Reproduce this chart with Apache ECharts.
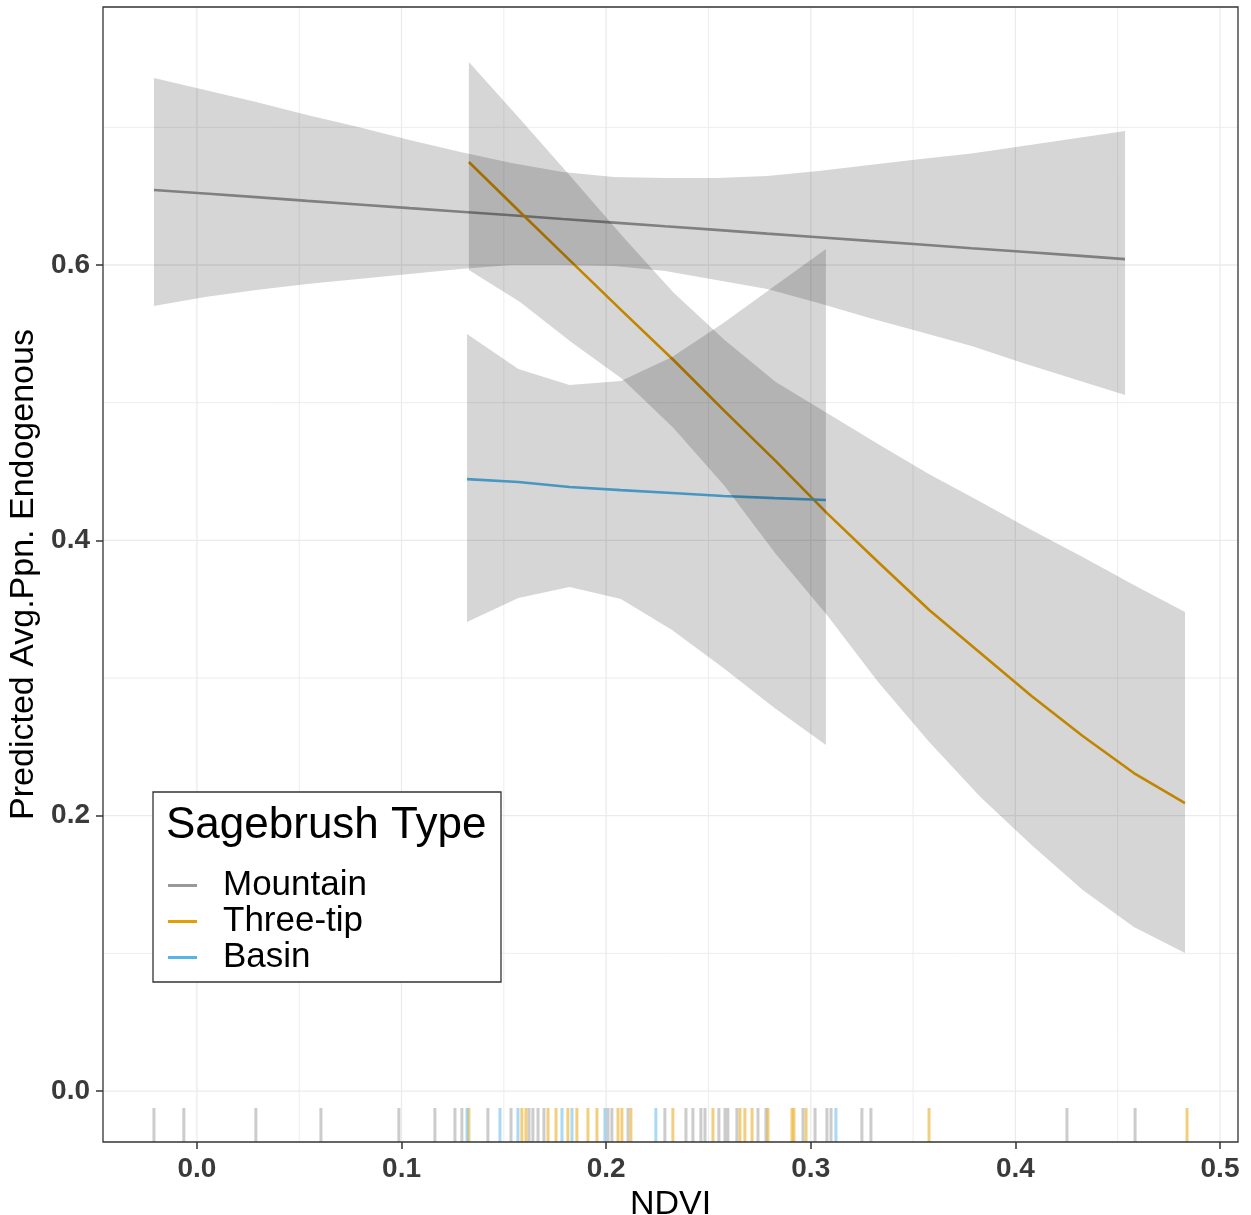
<!DOCTYPE html>
<html>
<head>
<meta charset="utf-8">
<script src="https://cdn.jsdelivr.net/npm/echarts@6/dist/echarts.min.js"></script>
<style>
  html, body { margin: 0; padding: 0; background: #fff; }
  #container { width: 1251px; height: 1215px; }
</style>
</head>
<body>
<div id="container"></div>
<script>
// predicted values (ggeffects style)
const mountainX = [-0.0210, 0.0040, 0.0290, 0.0539, 0.0789, 0.1039, 0.1289, 0.1538, 0.1788, 0.2038,
                   0.2288, 0.2538, 0.2787, 0.3037, 0.3287, 0.3537, 0.3786, 0.4036, 0.4286, 0.4536];
const mountainFit = [0.6545, 0.6519, 0.6493, 0.6466, 0.6440, 0.6413, 0.6387, 0.6361, 0.6334, 0.6308,
                     0.6281, 0.6255, 0.6228, 0.6202, 0.6175, 0.6149, 0.6122, 0.6096, 0.6070, 0.6043];
const mountainHi = [0.7358, 0.7271, 0.7184, 0.7090, 0.7003, 0.6908, 0.6821, 0.6741, 0.6675, 0.6639,
                    0.6632, 0.6632, 0.6646, 0.6683, 0.6726, 0.6770, 0.6810, 0.6864, 0.6918, 0.6973];
const mountainLo = [0.5702, 0.5767, 0.5818, 0.5862, 0.5898, 0.5935, 0.5971, 0.6000, 0.6000, 0.5993,
                    0.5956, 0.5891, 0.5826, 0.5724, 0.5615, 0.5513, 0.5411, 0.5288, 0.5172, 0.5056];

const threeTipX = [0.1329, 0.1579, 0.1829, 0.2079, 0.2329, 0.2579, 0.2829, 0.3079, 0.3329, 0.3579,
                   0.3829, 0.4079, 0.4329, 0.4579, 0.4829];
const threeTipFit = [0.6748, 0.6385, 0.6025, 0.5665, 0.5310, 0.4939, 0.4576, 0.4198, 0.3843, 0.3494,
                     0.3182, 0.2869, 0.2579, 0.2310, 0.2092];
const threeTipHi = [0.7474, 0.7060, 0.6640, 0.6210, 0.5800, 0.5455, 0.5150, 0.4925, 0.4700, 0.4480,
                    0.4280, 0.4075, 0.3880, 0.3676, 0.3480];
const threeTipLo = [0.5964, 0.5731, 0.5441, 0.5172, 0.4816, 0.4395, 0.3901, 0.3458, 0.2971, 0.2535,
                    0.2136, 0.1787, 0.1460, 0.1191, 0.1002];

const basinX = [0.1320, 0.1571, 0.1821, 0.2072, 0.2322, 0.2573, 0.2823, 0.3074];
const basinFit = [0.4445, 0.4424, 0.4387, 0.4365, 0.4344, 0.4322, 0.4307, 0.4293];
const basinHi = [0.5499, 0.5244, 0.5128, 0.5157, 0.5332, 0.5579, 0.5847, 0.6116];
const basinLo = [0.3407, 0.3581, 0.3661, 0.3574, 0.3349, 0.3073, 0.2782, 0.2513];

// observed NDVI (rug)
const mountainRug = [-0.0210, -0.0064, 0.0288, 0.0606, 0.0987, 0.1163, 0.1261, 0.1295, 0.1422, 0.1535,
                     0.1623, 0.1642, 0.1667, 0.1696, 0.2009, 0.2028, 0.2107, 0.2287, 0.2390, 0.2424,
                     0.2463, 0.2483, 0.2551, 0.2581, 0.2595, 0.2639, 0.2742, 0.2781, 0.2962, 0.3021,
                     0.3079, 0.3099, 0.3250, 0.3294, 0.4252, 0.4585];
const threeTipRug = [0.1329, 0.1588, 0.1608, 0.1716, 0.1755, 0.1813, 0.1857, 0.1911, 0.1955, 0.2058,
                     0.2077, 0.2121, 0.2326, 0.2522, 0.2654, 0.2678, 0.2713, 0.2791, 0.2908, 0.2918,
                     0.2977, 0.3578, 0.4839];
const basinRug = [0.1320, 0.1481, 0.1569, 0.1784, 0.1833, 0.1994, 0.2243, 0.3123];

const xTicks = [0, 0.1, 0.2, 0.3, 0.4, 0.5];
const xMinor = [0.05, 0.15, 0.25, 0.35, 0.45];
const yTicks = [0, 0.2, 0.4, 0.6];
const yMinor = [0.1, 0.3, 0.5, 0.7];

const X_MIN = -0.0459, X_MAX = 0.5088;
const Y_MIN = -0.0370, Y_MAX = 0.7874;
const FONT = '"Liberation Sans", Arial, sans-serif';

const groups = [
  {name: 'Mountain', color: '#999999', x: mountainX, fit: mountainFit, hi: mountainHi, lo: mountainLo, rug: mountainRug},
  {name: 'Three-tip', color: '#E69F00', x: threeTipX, fit: threeTipFit, hi: threeTipHi, lo: threeTipLo, rug: threeTipRug},
  {name: 'Basin', color: '#56B4E9', x: basinX, fit: basinFit, hi: basinHi, lo: basinLo, rug: basinRug}
];

function hexAlpha(hex, a) {
  const n = parseInt(hex.slice(1), 16);
  return 'rgba(' + (n >> 16) + ',' + ((n >> 8) & 255) + ',' + (n & 255) + ',' + a + ')';
}

let myChart = echarts.init(document.getElementById('container'));

let series = [];

// panel grid lines
let gridData = [];
xTicks.forEach(v => gridData.push([v, 0, 1]));
xMinor.forEach(v => gridData.push([v, 0, 0]));
yTicks.forEach(v => gridData.push([v, 1, 1]));
yMinor.forEach(v => gridData.push([v, 1, 0]));
series.push({
  type: 'custom',
  name: 'gridlines',
  silent: true,
  z: 1,
  data: gridData,
  renderItem: function (params, api) {
    const v = api.value(0), horiz = api.value(1), major = api.value(2);
    let p1, p2;
    if (horiz) { p1 = api.coord([X_MIN, v]); p2 = api.coord([X_MAX, v]); }
    else { p1 = api.coord([v, Y_MIN]); p2 = api.coord([v, Y_MAX]); }
    return {
      type: 'line',
      shape: {x1: p1[0], y1: p1[1], x2: p2[0], y2: p2[1]},
      style: {stroke: '#EBEBEB', lineWidth: major ? 1.3 : 0.9}
    };
  }
});

groups.forEach(g => {
  series.push({
    type: 'line',
    name: g.name,
    data: g.x.map((x, i) => [x, g.fit[i]]),
    showSymbol: false,
    symbol: 'none',
    smooth: false,
    color: g.color,
    lineStyle: {width: 2.6, color: g.color},
    z: 2
  });
});

groups.forEach(g => {
  series.push({
    type: 'custom',
    name: g.name + ' CI',
    silent: true,
    z: 3,
    data: [0],
    renderItem: function (params, api) {
      let pts = [];
      for (let i = 0; i < g.x.length; i++) pts.push(api.coord([g.x[i], g.hi[i]]));
      for (let i = g.x.length - 1; i >= 0; i--) pts.push(api.coord([g.x[i], g.lo[i]]));
      return {
        type: 'polygon',
        shape: {points: pts},
        style: {fill: 'rgba(0,0,0,0.16)', stroke: null}
      };
    }
  });
});

groups.forEach(g => {
  series.push({
    type: 'custom',
    name: g.name + ' rug',
    silent: true,
    z: 4,
    data: g.rug.map(v => [v]),
    renderItem: function (params, api) {
      const p = api.coord([api.value(0), Y_MIN]);
      return {
        type: 'line',
        shape: {x1: p[0], y1: p[1], x2: p[0], y2: p[1] - 34},
        style: {stroke: hexAlpha(g.color, 0.5), lineWidth: 3}
      };
    }
  });
});

myChart.setOption({
  backgroundColor: '#ffffff',
  animation: false,
  grid: {
    left: 103, top: 7, width: 1135, height: 1135,
    outerBoundsMode: 'none',
    containLabel: false,
    show: true, borderColor: '#333333', borderWidth: 1.3, backgroundColor: 'transparent',
    z: 5
  },
  xAxis: {
    type: 'value',
    min: X_MIN, max: X_MAX,
    name: 'NDVI',
    nameLocation: 'middle',
    nameGap: 43,
    nameTextStyle: {fontFamily: FONT, fontSize: 34, color: '#000', lineHeight: 34},
    axisLine: {show: false, onZero: false},
    splitLine: {show: false},
    axisTick: {show: true, length: 7, customValues: xTicks, lineStyle: {color: '#333', width: 1.5}},
    axisLabel: {
      customValues: xTicks, margin: 13,
      fontFamily: FONT, fontSize: 28, fontWeight: 'bold', color: '#3a3a3a',
      formatter: v => v.toFixed(1)
    }
  },
  yAxis: {
    type: 'value',
    min: Y_MIN, max: Y_MAX,
    name: 'Predicted Avg.Ppn. Endogenous',
    nameLocation: 'middle',
    nameGap: 59,
    nameTextStyle: {fontFamily: FONT, fontSize: 34, color: '#000', lineHeight: 34},
    axisLine: {show: false, onZero: false},
    splitLine: {show: false},
    axisTick: {show: true, length: 7, customValues: yTicks, lineStyle: {color: '#333', width: 1.5}},
    axisLabel: {
      customValues: yTicks, margin: 13,
      fontFamily: FONT, fontSize: 28, fontWeight: 'bold', color: '#3a3a3a',
      formatter: v => v.toFixed(1)
    }
  },
  legend: {
    data: groups.map(g => g.name),
    orient: 'vertical',
    left: 168,
    top: 868,
    padding: 0,
    itemGap: 1,
    itemWidth: 29,
    itemHeight: 3,
    icon: 'rect',
    selectedMode: false,
    z: 60,
    textStyle: {fontFamily: FONT, fontSize: 35, color: '#000', lineHeight: 34, padding: [0, 0, 0, 21]}
  },
  graphic: [
    {
      type: 'rect',
      z: 50,
      shape: {x: 153, y: 792, width: 348, height: 190},
      style: {fill: '#ffffff', stroke: '#333333', lineWidth: 1.3}
    },
    {
      type: 'text',
      z: 51,
      x: 166, y: 826,
      style: {text: 'Sagebrush Type', font: '44px ' + FONT, fill: '#000', verticalAlign: 'middle', align: 'left'}
    }
  ],
  series: series
});
</script>
</body>
</html>
